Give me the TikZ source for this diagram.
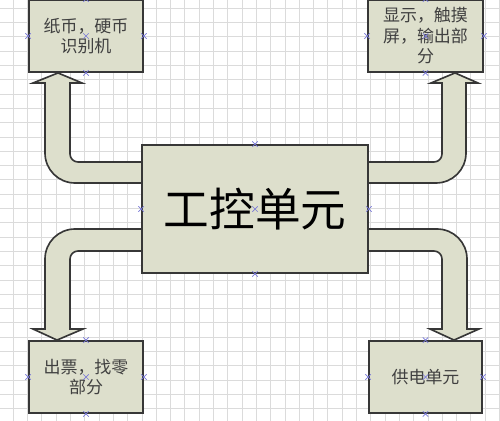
\documentclass[tikz,border=0pt]{standalone}
\usepackage{fontspec}
\setmainfont{Noto Sans CJK SC}
\usetikzlibrary{backgrounds,shapes.misc}

\definecolor{boxfill}{RGB}{221,223,204}
\definecolor{edgegray}{RGB}{55,55,55}
\definecolor{markblue}{RGB}{120,120,215}

\tikzset{
  unitbox/.style={draw=edgegray, fill=boxfill, line width=1.6pt,
    minimum width=3.42cm, minimum height=2.16cm, inner sep=0pt,
    align=center, text=black!75, font=\fontsize{14.5}{17.5}\selectfont},
  blockarrow/.style={draw=edgegray, fill=boxfill, line width=1.4pt, line join=miter},
  gridline/.style={gray!28, line width=0.3pt},
  pinmark/.style={draw=markblue, cross out, minimum size=4pt, inner sep=0pt, line width=0.6pt}
}

\begin{document}
\begin{tikzpicture}[x=0.03cm,y=-0.03cm]
\useasboundingbox (0,0) rectangle (500,421);

% Units
\node[unitbox] (paper) at (86,36) {纸币，硬币\\识别机};
\node[unitbox, minimum width=3.45cm] (screen) at (425.5,36) {显示，触摸\\屏，输出部\\分};
\node[unitbox, minimum width=6.78cm, minimum height=3.84cm, text=black,
      font=\fontsize{39}{44}\selectfont] (ctrl) at (255,209) {工控单元};
\node[unitbox] (ticket) at (86,377) {出票，找零\\部分};
\node[unitbox, minimum width=3.39cm] (power) at (425.5,377) {供电单元};

% Connection points
\foreach \n in {paper,screen,ctrl,ticket,power} {
    \foreach \a in {north,south,east,west,center} {
        \node[pinmark] at (\n.\a) {};
    }
}

\begin{scope}[on background layer]
% Background grid
\foreach \g in {0,...,34} {
    \draw[gridline] (13+14.3*\g,0) -- (13+14.3*\g,421);
}
\foreach \g in {0,...,28} {
    \draw[gridline] (0,8+14.3*\g) -- (500,8+14.3*\g);
}

% Block arrows out of the control unit
\filldraw[blockarrow] (ctrl.west |- 0,162) -- (78,162)
    .. controls (73.6,162) and (70,158.4) .. (70,154) -- (70,83) -- (82,83)
    -- (paper.south -| 58,0) -- (33,83) -- (45,83) -- (45,153)
    .. controls (45,169.6) and (58.4,183) .. (75,183) -- (ctrl.west |- 0,183);
\filldraw[blockarrow] (ctrl.east |- 0,162) -- (434,162)
    .. controls (438.4,162) and (442,158.4) .. (442,154) -- (442,83) -- (431,83)
    -- (screen.south -| 455,0) -- (478,83) -- (466,83) -- (466,153)
    .. controls (466,169.6) and (452.6,183) .. (436,183) -- (ctrl.east |- 0,183);
\filldraw[blockarrow] (ctrl.west |- 0,251) -- (78,251)
    .. controls (73.6,251) and (70,254.6) .. (70,259) -- (70,329) -- (83,329)
    -- (ticket.north -| 57,0) -- (33,329) -- (45,329) -- (45,259)
    .. controls (45,242.4) and (58.4,229) .. (75,229) -- (ctrl.west |- 0,229);
\filldraw[blockarrow] (ctrl.east |- 0,251) -- (434,251)
    .. controls (438.4,251) and (442,254.6) .. (442,259) -- (442,329) -- (430,329)
    -- (power.north -| 454,0) -- (479,329) -- (467,329) -- (467,259)
    .. controls (467,242.4) and (453.6,229) .. (437,229) -- (ctrl.east |- 0,229);
\end{scope}

\end{tikzpicture}
\end{document}
